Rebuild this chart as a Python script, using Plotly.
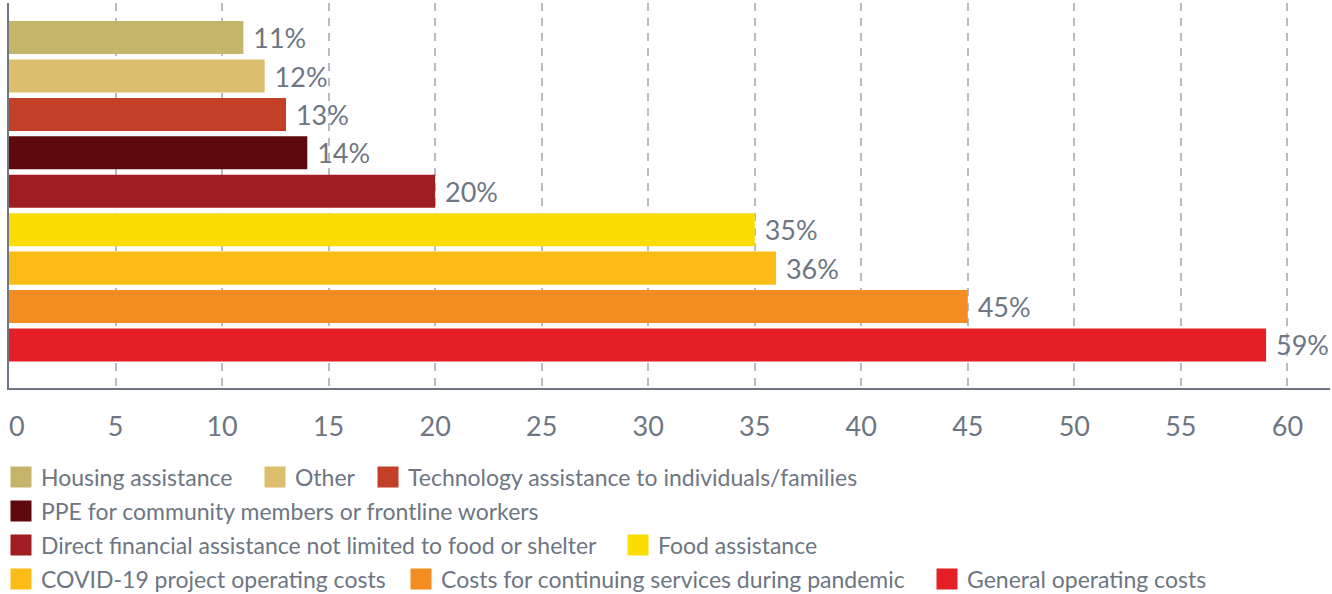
import plotly.graph_objects as go

categories = [
    "Housing assistance",
    "Other",
    "Technology assistance to individuals/families",
    "PPE for community members or frontline workers",
    "Direct financial assistance not limited to food or shelter",
    "Food assistance",
    "COVID-19 project operating costs",
    "Costs for continuing services during pandemic",
    "General operating costs",
]
values = [11, 12, 13, 14, 20, 35, 36, 45, 59]
colors = ["#c4b56a", "#dcbe6f", "#c43f27", "#5e0a0d", "#a01d21",
          "#fbdd03", "#fbbc18", "#f48d21", "#e41f27"]
tick_vals = [0, 5, 10, 15, 20, 25, 30, 35, 40, 45, 50, 55, 60]
tick_labels = ["\u20070", "5", "10", "15", "20", "25", "30", "35", "40",
               "45", "50", "55", "60"]

GREY = "#6d7682"
FONT = "Lato, 'Open Sans', sans-serif"

# legend layout: (left pixel of the legend box, row centre pixel)
legend_slots = [(1, 477), (255, 477), (368, 477),
                (1, 511),
                (1, 545), (618, 545),
                (1, 579), (401, 579), (927, 579)]

fig = go.Figure()
for i, (cat, val, col) in enumerate(zip(categories, values, colors)):
    fig.add_trace(go.Bar(
        y=[cat], x=[val], orientation="h", name=cat,
        marker=dict(color=col, line=dict(width=0)),
        texttemplate=" %{x}%", textposition="outside",
        textfont=dict(size=27, color=GREY, family=FONT),
        constraintext="none", cliponaxis=False,
        showlegend=False, hoverinfo="skip",
    ))
# legend entries (square swatches like the reference)
for i, (cat, col) in enumerate(zip(categories, colors)):
    lg = "legend" if i == 0 else f"legend{i + 1}"
    fig.add_trace(go.Scatter(
        x=[None], y=[None], mode="markers", name=cat,
        marker=dict(symbol="square", size=16, color=col,
                    line=dict(color=col, width=5)),
        legend=lg, hoverinfo="skip",
    ))

# figure is a little taller than the 594px window so the last legend row
# does not push the margins; the overflow is hidden
W, H = 1332, 630
ml, mr, mt = 8, 2, 3
plot_bottom = 388
mb = H - plot_bottom
ph = plot_bottom - mt
pw = W - ml - mr

legends = {}
for i, (lx, ly) in enumerate(legend_slots):
    key = "legend" if i == 0 else f"legend{i + 1}"
    legends[key] = dict(orientation="h", xanchor="left", yanchor="middle",
                        x=(lx - ml) / pw, y=(plot_bottom - ly) / ph,
                        bgcolor="rgba(0,0,0,0)",
                        font=dict(size=23, color=GREY, family=FONT),
                        itemwidth=30, tracegroupgap=0)

fig.update_layout(
    width=W, height=H,
    margin=dict(l=ml, r=mr, t=mt, b=mb),
    paper_bgcolor="white", plot_bgcolor="white",
    barmode="overlay", bargap=0.14,
    font=dict(family=FONT, color=GREY),
    showlegend=True,
    **legends,
    xaxis=dict(range=[0, 62], tickvals=tick_vals, ticktext=tick_labels,
               showgrid=True, ticklabeloverflow="allow",
               gridcolor="#b9bdc3", gridwidth=1.5, griddash="8px,7px",
               zeroline=False, showline=True, linecolor=GREY, linewidth=1.5,
               ticks="", ticklabelstandoff=14, automargin=False,
               tickfont=dict(size=27, color=GREY, family=FONT)),
    yaxis=dict(categoryorder="array", categoryarray=categories,
               range=[9.12, -0.9], showticklabels=False, showgrid=False,
               zeroline=False, showline=True, linecolor=GREY, linewidth=1.5,
               ticks="", automargin=False),
)

fig.write_html(
    "out.html",
    config={"displayModeBar": False},
    post_script=("document.body.style.margin='0';"
                 "document.body.style.padding='0';"
                 "document.body.style.overflow='hidden';"
                 "document.documentElement.style.overflow='hidden';"),
)
